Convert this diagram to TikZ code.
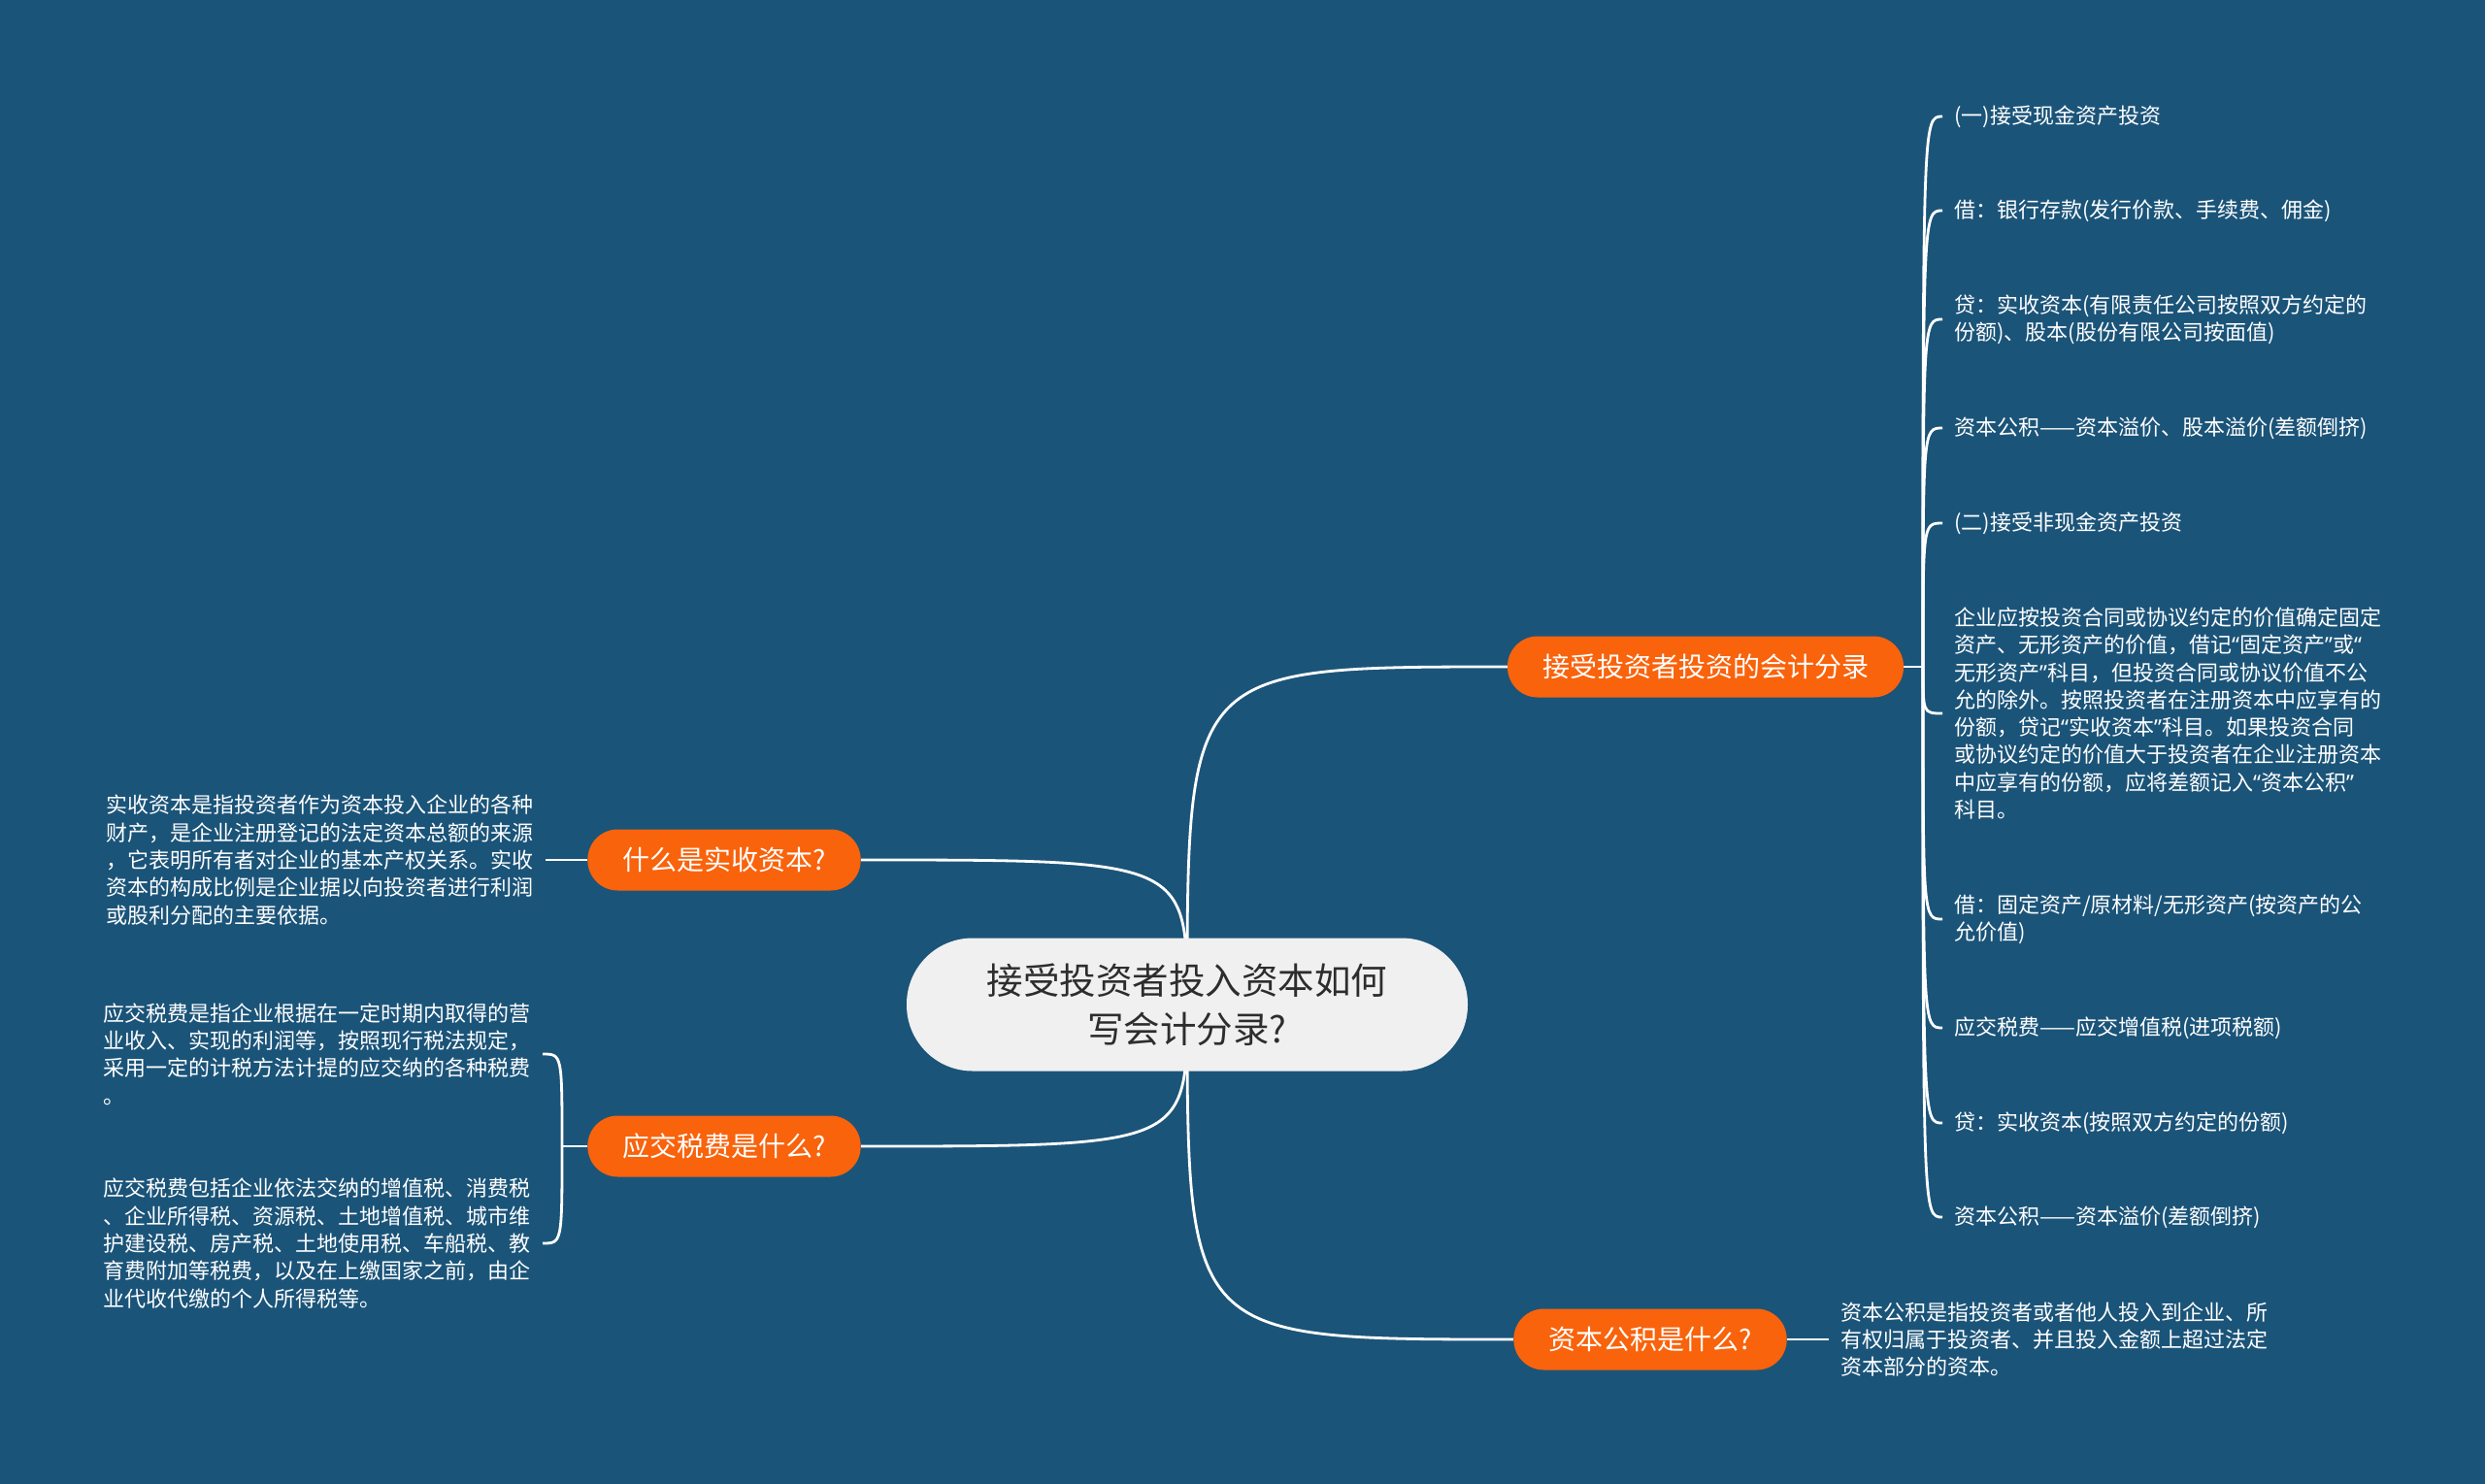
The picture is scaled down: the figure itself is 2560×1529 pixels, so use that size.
\documentclass[tikz,border=0pt]{standalone}
\usepackage{fontspec}
\setmainfont{Noto Sans CJK SC}
\newfontfamily\quotefont{Noto Sans}
\newcommand{\oq}{{\quotefont “}}
\newcommand{\cq}{{\quotefont ”}}
\usetikzlibrary{positioning}
\definecolor{bgblue}{RGB}{27,84,121}
\definecolor{topicorange}{RGB}{249,99,12}
\definecolor{rootfill}{RGB}{240,240,240}
\definecolor{roottext}{RGB}{45,45,45}
\pgfdeclarelayer{back}
\pgfsetlayers{back,main}

\begin{document}
\begin{tikzpicture}[
	x=1pt, y=-1pt,
	node distance={43pt},
	root/.style = {fill=rootfill, text=roottext, rounded corners=68pt, minimum width=578pt, minimum height=137pt, align=center, font=\fontsize{37.5}{50}\selectfont},
	topic/.style = {fill=topicorange, text=white, rounded corners=31pt, minimum height=63pt, inner xsep=36pt, font=\fontsize{28}{34}\selectfont},
	leaf/.style = {text=white, align=left, inner xsep=12pt, inner ysep=2pt, font=\fontsize{22}{28.3}\selectfont},
	link/.style = {draw=white, line width=2.8pt}
	]
	\useasboundingbox (0,0) rectangle (2560,1529);
	
	\node[root] (root) at (1223,1035) {接受投资者投入资本如何\\写会计分录?};
	\node[topic] (entry) at (1757,687) {接受投资者投资的会计分录};
	\node[topic] (paidin) at (746,886) {什么是实收资本?};
	\node[topic] (taxes) at (746,1181) {应交税费是什么?};
	\node[topic] (surplus) at (1700,1380) {资本公积是什么?};
	
	\node[leaf, anchor=west] (e1) at (2001,120) {(一)接受现金资产投资};
	\node[leaf, anchor=west] (e2) at (2001,217) {借：银行存款(发行价款、手续费、佣金)};
	\node[leaf, anchor=west] (e3) at (2001,329) {贷：实收资本(有限责任公司按照双方约定的\\份额)、股本(股份有限公司按面值)};
	\node[leaf, anchor=west] (e4) at (2001,441) {资本公积——资本溢价、股本溢价(差额倒挤)};
	\node[leaf, anchor=west] (e5) at (2001,539) {(二)接受非现金资产投资};
	\node[leaf, anchor=west] (e6) at (2001,735) {企业应按投资合同或协议约定的价值确定固定\\资产、无形资产的价值，借记\oq 固定资产\cq 或\oq\\无形资产\cq 科目，但投资合同或协议价值不公\\允的除外。按照投资者在注册资本中应享有的\\份额，贷记\oq 实收资本\cq 科目。如果投资合同\\或协议约定的价值大于投资者在企业注册资本\\中应享有的份额，应将差额记入\oq 资本公积\cq\\科目。};
	\node[leaf, anchor=west] (e7) at (2001,947) {借：固定资产/原材料/无形资产(按资产的公\\允价值)};
	\node[leaf, anchor=west] (e8) at (2001,1059) {应交税费——应交增值税(进项税额)};
	\node[leaf, anchor=west] (e9) at (2001,1157) {贷：实收资本(按照双方约定的份额)};
	\node[leaf, anchor=west] (e10) at (2001,1254) {资本公积——资本溢价(差额倒挤)};
	\coordinate (hub) at (1981,687);
	
	\node[leaf] (paidtext) [left=of paidin] {实收资本是指投资者作为资本投入企业的各种\\财产，是企业注册登记的法定资本总额的来源\\，它表明所有者对企业的基本产权关系。实收\\资本的构成比例是企业据以向投资者进行利润\\或股利分配的主要依据。};
	
	\node[leaf, anchor=east] (taxa) at (559,1086) {应交税费是指企业根据在一定时期内取得的营\\业收入、实现的利润等，按照现行税法规定，\\采用一定的计税方法计提的应交纳的各种税费\\。};
	\node[leaf, anchor=east] (taxb) at (559,1281) {应交税费包括企业依法交纳的增值税、消费税\\、企业所得税、资源税、土地增值税、城市维\\护建设税、房产税、土地使用税、车船税、教\\育费附加等税费，以及在上缴国家之前，由企\\业代收代缴的个人所得税等。};
	\coordinate (taxhub) at (579,1181);
	
	\node[leaf] (surplustext) [right=of surplus] {资本公积是指投资者或者他人投入到企业、所\\有权归属于投资者、并且投入金额上超过法定\\资本部分的资本。};
	
	\begin{pgfonlayer}{back}
		\fill[bgblue] (0,0) rectangle (2560,1529);
		\foreach \t in {entry, paidin, taxes, surplus}
			\draw[link] (root.center) .. controls (root.center |- \t) .. (\t);
		\draw[link] (entry.east) -- (hub);
		\foreach \i in {1,...,10}
			\draw[link] (hub) .. controls (hub |- e\i.west) .. (e\i.west);
		\draw[link] (paidin.west) -- (paidtext.east);
		\draw[link] (taxes.west) -- (taxhub);
		\draw[link] (taxhub) .. controls (taxhub |- taxa.east) .. (taxa.east);
		\draw[link] (taxhub) .. controls (taxhub |- taxb.east) .. (taxb.east);
		\draw[link] (surplus.east) -- (surplustext.west);
	\end{pgfonlayer}
\end{tikzpicture}
\end{document}
